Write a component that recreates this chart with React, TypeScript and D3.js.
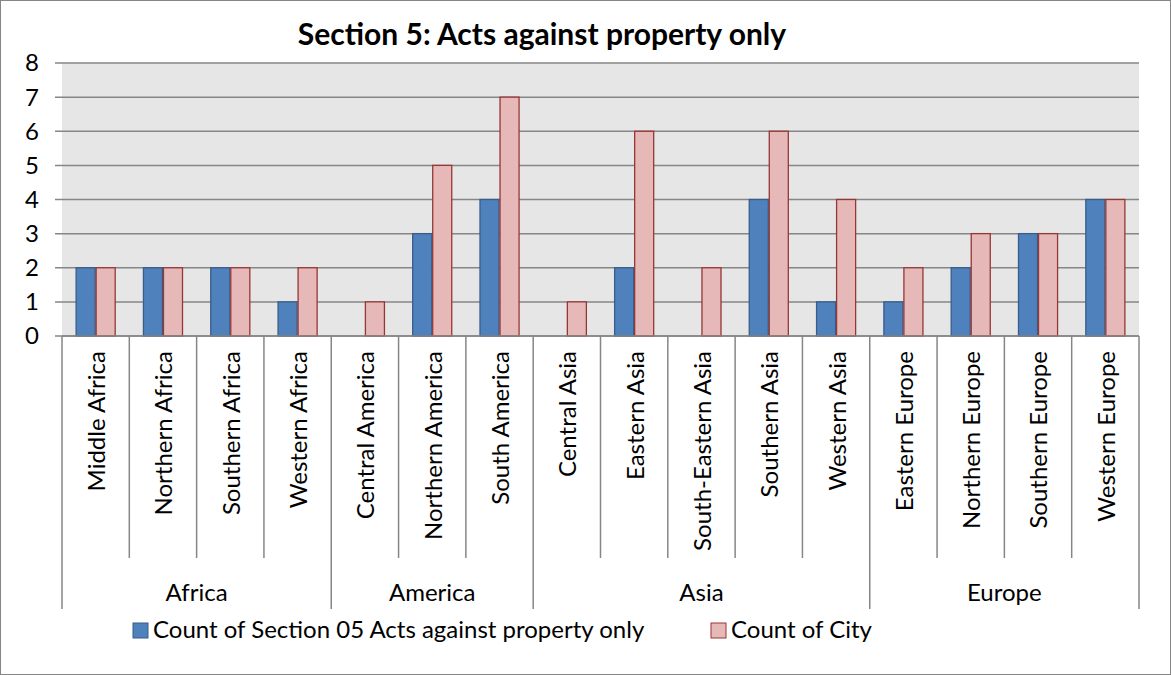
import React from 'react'
import * as d3 from 'd3'

// data
const regions = ['Africa', 'America', 'Asia', 'Europe']
const categories = [
  'Middle Africa', 'Northern Africa', 'Southern Africa', 'Western Africa',
  'Central America', 'Northern America', 'South America',
  'Central Asia', 'Eastern Asia', 'South-Eastern Asia', 'Southern Asia', 'Western Asia',
  'Eastern Europe', 'Northern Europe', 'Southern Europe', 'Western Europe',
]
const categoryRegion = [
  'Africa', 'Africa', 'Africa', 'Africa',
  'America', 'America', 'America',
  'Asia', 'Asia', 'Asia', 'Asia', 'Asia',
  'Europe', 'Europe', 'Europe', 'Europe',
]
const section05 = [2, 2, 2, 1, 0, 3, 4, 0, 2, 0, 4, 1, 1, 2, 3, 4]
const cityCount = [2, 2, 2, 2, 1, 5, 7, 1, 6, 2, 6, 4, 2, 3, 3, 4]
const seriesNames = ['Count of Section 05 Acts against property only', 'Count of City']
const yTicks = [0, 1, 2, 3, 4, 5, 6, 7, 8]

const W = 1171
const H = 675
const margin = { top: 63, right: 32, bottom: 339, left: 62 }
const font = 'Lato, "Open Sans", sans-serif'
const grid = '#868686'

export default function App() {
  const plotBottom = H - margin.bottom
  const plotRight = W - margin.right

  const x0 = d3.scaleBand().domain(categories).range([margin.left, plotRight]).padding(0)
  const x1 = d3.scaleBand().domain(['a', 'b']).range([0, x0.bandwidth()]).paddingInner(0).paddingOuter(0.68)
  const y = d3.scaleLinear().domain([0, 8]).range([plotBottom, margin.top])

  const fills = ['#4F81BD', '#E6B9B8']
  const strokes = ['#385D8A', '#953735']
  const series = [section05, cityCount]

  const innerLineEnd = 558
  const groupLineEnd = 609

  // group boundaries
  const groups = regions.map(r => {
    const idx = categoryRegion.map((c, i) => (c === r ? i : -1)).filter(i => i >= 0)
    const start = x0(categories[idx[0]]) as number
    const end = (x0(categories[idx[idx.length - 1]]) as number) + x0.bandwidth()
    return { name: r, start, end, first: idx[0] }
  })
  const groupStarts = new Set(groups.map(g => g.first))

  // legend
  const legend = [{ x: 133 }, { x: 711 }]

  return (
    <svg width={W} height={H} style={{ position: 'absolute', left: 0, top: 0, background: '#fff' }} fontFamily={font}>
      <rect x={0.5} y={0.5} width={W - 1} height={H - 1} fill="#fff" stroke={grid} />
      <text x={542} y={45} textAnchor="middle" fontSize={30} fontWeight="bold" fill="#000">
        Section 5: Acts against property only
      </text>

      {/* plot area */}
      <rect x={margin.left} y={margin.top} width={plotRight - margin.left} height={plotBottom - margin.top} fill="#E6E6E6" />
      {yTicks.map(t => (
        <g key={t}>
          <line x1={margin.left - 7} x2={plotRight} y1={y(t)} y2={y(t)} stroke={grid} strokeWidth={1.5} />
          <text x={39} y={y(t)} dy="0.35em" textAnchor="end" fontSize={24} fill="#000">{t}</text>
        </g>
      ))}

      {/* bars */}
      {categories.map((c, i) => (
        <g key={c} transform={`translate(${x0(c)},0)`}>
          {series.map((s, k) => s[i] > 0 ? (
            <rect key={k}
              x={(x1(k === 0 ? 'a' : 'b') as number) + 0.5}
              y={y(s[i])}
              width={x1.bandwidth() - 1}
              height={y(0) - y(s[i])}
              fill={fills[k]} stroke={strokes[k]} strokeWidth={1.3} />
          ) : null)}
        </g>
      ))}

      {/* category axis */}
      <line x1={margin.left} x2={plotRight} y1={plotBottom} y2={plotBottom} stroke={grid} strokeWidth={1.5} />
      {categories.map((c, i) => {
        const bx = x0(c) as number
        return (
          <g key={c}>
            {!groupStarts.has(i) && (
              <line x1={bx} x2={bx} y1={plotBottom} y2={innerLineEnd} stroke={grid} strokeWidth={1.5} />
            )}
            <text transform={`translate(${bx + x0.bandwidth() / 2 + 1},351) rotate(-90)`}
              textAnchor="end" dy="0.35em" fontSize={24} fill="#000">{c}</text>
          </g>
        )
      })}
      {groups.map(g => (
        <g key={g.name}>
          <line x1={g.start} x2={g.start} y1={plotBottom} y2={groupLineEnd} stroke={grid} strokeWidth={1.5} />
          <text x={(g.start + g.end) / 2} y={601} textAnchor="middle" fontSize={24} fill="#000">{g.name}</text>
        </g>
      ))}
      <line x1={plotRight} x2={plotRight} y1={plotBottom} y2={groupLineEnd} stroke={grid} strokeWidth={1.5} />

      {legend.map((p, k) => (
        <g key={k}>
          <rect x={p.x} y={623} width={15} height={15} fill={fills[k]} stroke={strokes[k]} />
          <text x={p.x + 20} y={638} fontSize={24} fill="#000">{seriesNames[k]}</text>
        </g>
      ))}
    </svg>
  )
}
